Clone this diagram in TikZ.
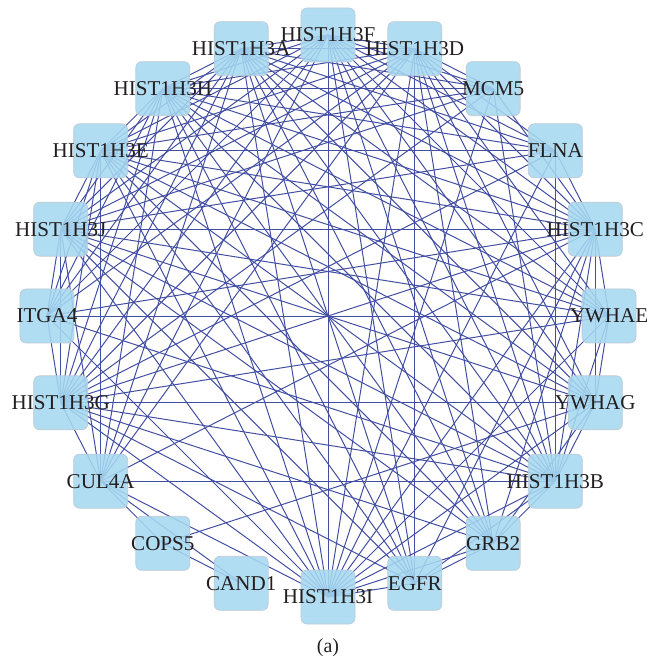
\documentclass[tikz,border=0pt]{standalone}
\usepackage{fontspec}
\setmainfont{Liberation Serif}
\usepackage{xcolor}
\usepackage{tikz}
\usetikzlibrary{backgrounds}
\definecolor{genefill}{RGB}{166,216,241}
\definecolor{genedraw}{RGB}{192,202,212}
\definecolor{edgeblue}{RGB}{66,78,162}
\definecolor{labeltext}{RGB}{35,31,32}
\newcommand{\gname}[1]{\makebox[0pt]{#1}}

\begin{document}
\begin{tikzpicture}[
      font=\fontsize{18}{20}\selectfont,
      gene/.style={draw=genedraw, line width=0.6pt, rounded corners=5pt,
        fill=genefill, fill opacity=0.88, text opacity=1, text=labeltext,
        minimum width=1.62cm, minimum height=1.62cm, inner sep=0pt},
      link/.style={edgeblue, line width=0.85pt}
    ]
    \useasboundingbox (-9.84,-10.41) rectangle (9.57,9.48);

    % ring of genes, 18 degrees apart
    \node[gene] (h3f) at (90:8.43) {\gname{HIST1H3F}};
    \node[gene] (h3d) at (72:8.43) {\gname{HIST1H3D}};
    \node[gene] (mcm5) at (54:8.43) {\gname{MCM5}};
    \node[gene] (flna) at (36:8.43) {\gname{FLNA}};
    \node[gene] (h3c) at (18:8.43) {\gname{HIST1H3C}};
    \node[gene] (ywhae) at (0:8.43) {\gname{YWHAE}};
    \node[gene] (ywhag) at (-18:8.43) {\gname{YWHAG}};
    \node[gene] (h3b) at (-36:8.43) {\gname{HIST1H3B}};
    \node[gene] (grb2) at (-54:8.43) {\gname{GRB2}};
    \node[gene] (egfr) at (-72:8.43) {\gname{EGFR}};
    \node[gene] (h3i) at (-90:8.43) {\gname{HIST1H3I}};
    \node[gene] (cand1) at (-108:8.43) {\gname{CAND1}};
    \node[gene] (cops5) at (-126:8.43) {\gname{COPS5}};
    \node[gene] (cul4a) at (-144:8.43) {\gname{CUL4A}};
    \node[gene] (h3g) at (-162:8.43) {\gname{HIST1H3G}};
    \node[gene] (itga4) at (180:8.43) {\gname{ITGA4}};
    \node[gene] (h3j) at (162:8.43) {\gname{HIST1H3J}};
    \node[gene] (h3e) at (144:8.43) {\gname{HIST1H3E}};
    \node[gene] (h3h) at (126:8.43) {\gname{HIST1H3H}};
    \node[gene] (h3a) at (108:8.43) {\gname{HIST1H3A}};

    \begin{pgfonlayer}{background}
      % histones with each other and with the hubs
      \foreach \h [count=\i] in {h3f,h3d,h3c,h3b,h3i,h3g,h3j,h3e,h3h,h3a} {
        \foreach \k [count=\j] in {h3f,h3d,h3c,h3b,h3i,h3g,h3j,h3e,h3h,h3a}
          {\ifnum\j>\i \draw[link] (\h.center) -- (\k.center);\fi}
        \foreach \o in {mcm5,flna,ywhae,ywhag,grb2,egfr,cul4a,itga4}
          \draw[link] (\h.center) -- (\o.center);
      }
      \draw[link] (egfr.center) -- (grb2.center);
      \draw[link] (grb2.center) -- (ywhag.center);
      \draw[link] (ywhae.center) -- (ywhag.center);
      \draw[link] (itga4.center) -- (ywhae.center);
      \draw[link] (cul4a.center) -- (cops5.center);
      \draw[link] (cul4a.center) -- (cand1.center);
      \draw[link] (cops5.center) -- (cand1.center);
      \draw[link] (cops5.center) -- (ywhag.center);
    \end{pgfonlayer}

    \node[text=labeltext, font=\fontsize{17}{19}\selectfont] (cap) at (0,-9.96) {(a)};
  \end{tikzpicture}
\end{document}
